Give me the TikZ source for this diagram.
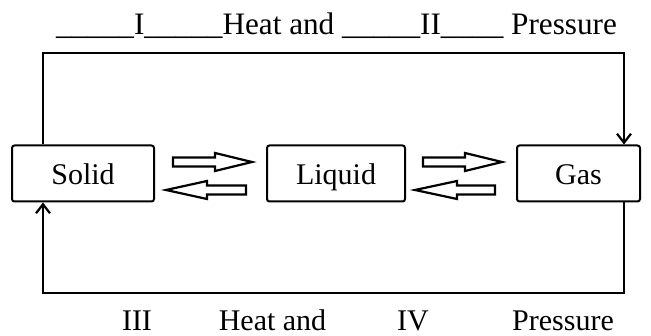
\documentclass[tikz,border=0pt]{standalone}
\usepackage{fontspec}
\setmainfont{Liberation Serif}
\usetikzlibrary{arrows.meta}
\begin{document}
\begin{tikzpicture}[x=1pt,y=-1pt,
  statebox/.style={draw,line width=2pt,rounded corners=2.5pt,minimum height=56pt,inner sep=0pt,text height=30pt,text depth=7pt,font=\fontsize{30}{36}\selectfont},
  conn/.style={line width=2.2pt},
  tip/.style={-{Straight Barb[length=9pt,width=14pt]}},
  hollow/.style={line width=2.2pt,line join=miter,fill=white},
  lbl/.style={inner sep=0pt,anchor=base,font=\fontsize{30}{36}\selectfont}]
\useasboundingbox (0,0) rectangle (651,336);
\node[statebox,minimum width=142pt] (solid) at (83,173.5) {Solid};
\node[statebox,minimum width=138pt] (liquid) at (336,173.5) {Liquid};
\node[statebox,minimum width=123pt] (gas) at (578.5,173.5) {Gas};
\coordinate (tl) at (43,53);
\coordinate (tr) at (624,53);
\coordinate (bl) at (43,293);
\coordinate (br) at (624,293);
\draw[conn,tip] (solid.north -| tl) -- (tl) -- (tr) -- (gas.north -| tr);
\draw[conn,tip] (gas.south -| br) -- (br) -- (bl) -- (solid.south -| bl);
% hollow arrows
\draw[hollow] (173,157.5) -- (215,157.5) -- (215,153) -- (252,162) -- (215,171) -- (215,166.5) -- (173,166.5) -- cycle;
\draw[hollow] (246,185.5) -- (207,185.5) -- (207,181) -- (166,190) -- (207,199) -- (207,194.5) -- (246,194.5) -- cycle;
\draw[hollow] (423,157.5) -- (465,157.5) -- (465,153) -- (502,162) -- (465,171) -- (465,166.5) -- (423,166.5) -- cycle;
\draw[hollow] (495,185.5) -- (457,185.5) -- (457,181) -- (415,190) -- (457,199) -- (457,194.5) -- (495,194.5) -- cycle;
\node[lbl] (top) at (336.5,35) {\resizebox{561pt}{!}{\_\_\_\_\_I\_\_\_\_\_Heat and \_\_\_\_\_II\_\_\_\_ Pressure}};
\node[lbl] (b1) at (137,331) {III};
\node[lbl] (b2) at (272.5,331) {Heat and};
\node[lbl] (b3) at (413,331) {IV};
\node[lbl] (b4) at (563,331) {Pressure};
\end{tikzpicture}
\end{document}
